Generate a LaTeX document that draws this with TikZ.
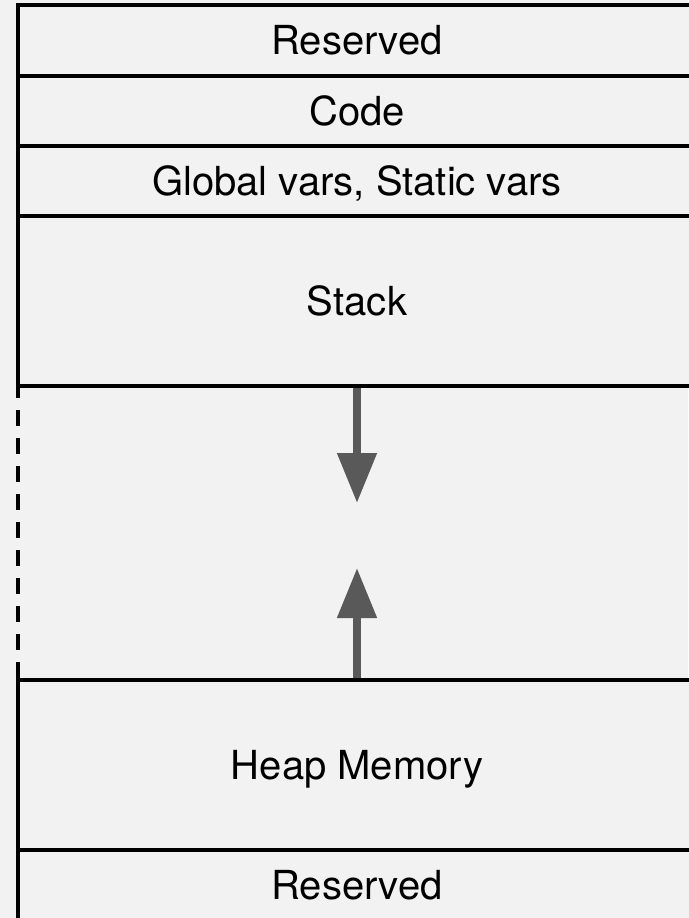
\documentclass[tikz,border=0pt]{standalone}
\usepackage{fontspec}
\setmainfont{TeX Gyre Heros}
\usetikzlibrary{arrows.meta,backgrounds}
\definecolor{bgclr}{HTML}{F2F2F2}
\definecolor{arrclr}{HTML}{595959}
\newcommand{\rowfont}{\fontsize{40}{48}\selectfont}

\begin{document}
\begin{tikzpicture}[x=1pt, y=-1pt,
    row/.style = {draw, line width=3.5pt, fill=bgclr, minimum width=678pt, inner sep=0pt, outer sep=0pt,
                  text height=28.6pt, text depth=0pt, font=\rowfont},
    growth/.style = {arrclr, line width=8pt, -{Triangle[length=50pt, width=38pt]}}]
    \useasboundingbox (0,0) rectangle (688,918);

    \foreach \nm/\y/\h/\txt in {res1/40.5/71/Reserved, code/111/70/Code, glob/181/70/{Global vars, Static vars},
                                stack/301/170/Stack, heap/765/170/Heap Memory, res2/885/70/Reserved} {
        \node[row, minimum height=\h pt] (\nm) at (357,\y) {\txt};
    }

    % free space between stack and heap
    \draw[line width=3.5pt, dash pattern=on 16pt off 12pt, dash phase=4pt] (stack.south west) -- (heap.north west);

    \coordinate (stackend) at (357,503);
    \coordinate (heapend) at (357,568);

    \begin{scope}[on background layer]
        \fill[bgclr] (0,0) rectangle (688,918);
        \draw[growth] (stack.south) -- (stackend);
        \draw[growth] (heap.north) -- (heapend);
    \end{scope}
\end{tikzpicture}
\end{document}
